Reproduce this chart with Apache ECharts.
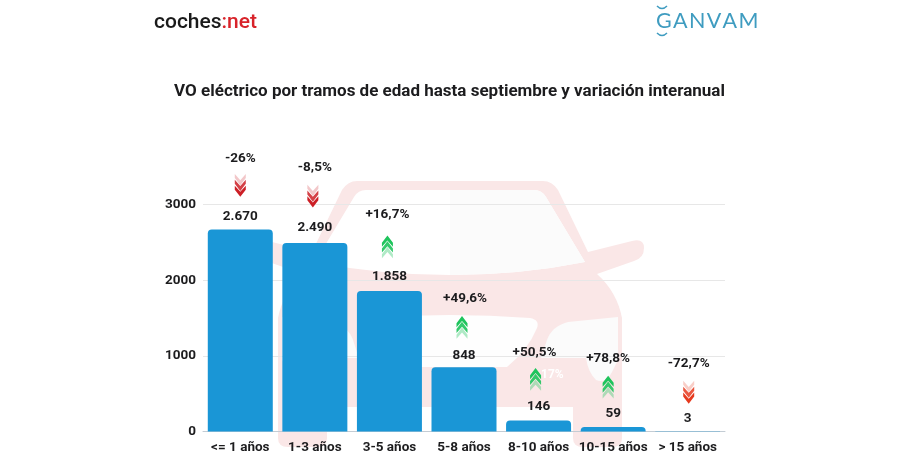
<!DOCTYPE html>
<html><head><meta charset="utf-8">
<style>html,body{margin:0;padding:0;background:#fff}#c{width:900px;height:456px}</style>
<script src="https://cdn.jsdelivr.net/npm/echarts@6/dist/echarts.min.js"></script></head>
<body><div id="c"></div>
<script>
const categories = ['<= 1 años','1-3 años','3-5 años','5-8 años','8-10 años','10-15 años','> 15 años'];
const units = [2670,2490,1858,848,146,59,3];
const yoyChange = [-26,-8.5,16.7,49.6,50.5,78.8,-72.7];
const yTicks = [0,1000,2000,3000];
const titleText = 'VO eléctrico por tramos de edad hasta septiembre y variación interanual';

// layout only: pixel offsets of each annotation from the bar's top centre
const valueLift = [13,15,14,11.5,13.5,13.5,12.5];
const arrowLift = [44,47,44,40,41,40,39];
const pctLift = [71,75,76.5,69,68,68,67.5];
const arrowNudge = [0,-2,-2,-2,-3,-5,1];
const pctNudge = [0,0,-2,1,-4,-5,1];

const F = 'Roboto, sans-serif';
const INK = '#1c1c1e';
const fmtUnits = v => String(v).replace(/\B(?=(\d{3})+$)/g, '.');
const fmtPct = v => (v > 0 ? '+' : '') + String(v).replace('.', ',') + '%';

const PINK = '#fae7e7', PALE = '#fbfbfb';
let shapeId = 0;
function deco(path, style, z) {
  const name = 'decoShape' + (shapeId++);
  echarts.graphic.registerShape(name, echarts.graphic.extendPath(path));
  return { type:name, z: z === undefined ? -10 : z, silent:true, style };
}
const carBody = 'M357 181 L543 181 Q552 181 558 190 L588 252 L632 241 Q644 238 644 248 Q644 258 634 261 L597 274 Q617 292 622 318 L622 438 Q622 447 612 447 L583 447 Q573 447 573 438 L573 407 L327 407 L327 438 Q327 447 317 447 L288 447 Q278 447 278 438 L278 318 Q283 292 303 274 L266 261 Q256 258 256 248 Q256 238 268 241 L312 252 L342 190 Q348 181 357 181 Z';
const carWindow = 'M366 190 L534 190 Q542 190 546 197 L585 262 Q520 275 450 275 Q380 275 315 262 L354 197 Q358 190 366 190 Z';
const carWindowRight = 'M450 190 L534 190 Q542 190 546 197 L585 262 Q520 275 450 275 Z';
const carGrille = 'M370 318 Q450 312 530 318 Q540 320 537 328 Q528 350 507 367 L393 367 Q372 350 363 328 Q360 320 370 318 Z';
const lampR = 'M618 317 L568 322 Q552 326 547 340 L541 358 L586 358 Q588 372 596 380 Q606 384 612 372 L618 360 Z';
const lampL = 'M282 317 L332 322 Q348 326 353 340 L359 358 L314 358 Q312 372 304 380 Q294 384 288 372 L282 360 Z';

const chart = echarts.init(document.getElementById('c'), null, { renderer:'canvas' });

function chevron(cx, cy, dir, color, opacity) {
  const w = 5.5, h = 3.6, t = 5;
  const p = dir > 0
    ? [[cx-w,cy+h-2],[cx,cy-h-2],[cx+w,cy+h-2],[cx+w,cy+h-2+t*.8],[cx,cy-h-2+t],[cx-w,cy+h-2+t*.8]]
    : [[cx-w,cy-h+2],[cx,cy+h+2],[cx+w,cy-h+2],[cx+w,cy-h+2-t*.8],[cx,cy+h+2-t],[cx-w,cy-h+2-t*.8]];
  return { type:'polygon', shape:{ points:p }, style:{ fill:color, opacity } };
}

chart.setOption({
  animation:false,
  backgroundColor:'#fff',
  title:{ text:titleText, left:444.5, top:78, textAlign:'center',
    textStyle:{ fontFamily:F, fontSize:17, fontWeight:'bold', color:INK } },
  grid:{ left:203, right:175, top:204.5, bottom:24.5, containLabel:false },
  xAxis:{ type:'category', data:categories, axisTick:{show:false},
    axisLine:{ lineStyle:{ color:'#c3ccd4', width:1 } },
    axisLabel:{ fontFamily:F, fontSize:13.5, fontWeight:'bold', color:INK, margin:9, interval:0 } },
  yAxis:{ type:'value', min:yTicks[0], max:yTicks[yTicks.length-1], interval:yTicks[1]-yTicks[0],
    axisLine:{show:false}, axisTick:{show:false},
    axisLabel:{ fontFamily:F, fontSize:13.5, fontWeight:'bold', color:INK, margin:7, formatter:v=>String(v) },
    splitLine:{ lineStyle:{ color:'#e7e7e7', width:1 } } },
  graphic:[
    deco(carBody, { fill:PINK }), deco(carWindow, { fill:'#fff' }), deco(carWindowRight, { fill:PALE }),
    deco(carGrille, { fill:'#fefefe' }), deco(lampR, { fill:PALE }), deco(lampL, { fill:PALE }),
    { type:'text', z:1, silent:true, x:154, y:12, style:{ rich:{
        a:{ fontFamily:F, fontSize:21, fontWeight:500, fill:'#1a1a1a' },
        b:{ fontFamily:F, fontSize:21, fontWeight:500, fill:'#d8232a' } },
        text:'{a|coches}{b|:net}' } },
    { type:'text', z:1, silent:true, x:656, y:10, style:{
        text:'G\u200aA\u200aN\u200aV\u200aA\u200aM', fontFamily:'Lato, sans-serif', fontSize:21.5, fontWeight:400, fill:'#3f9cc0' } },
    deco('M657 6 Q662 11 667 6 M657 33 Q662 38 667 33', { stroke:'#3f9cc0', fill:'none', lineWidth:1.5 }, 1),
    { type:'text', z:1, silent:true, x:541, y:369, style:{ text:'17%', fontFamily:F, fontSize:12, fontWeight:'bold', fill:'#fff' } }
  ],
  series:[
    { type:'bar', z:2, data:units, barWidth:65, itemStyle:{ color:'#1a96d6', borderRadius:[4,4,0,0] } },
    { type:'custom', z:4, data:units.map((v,i)=>[i,v]),
      renderItem(params, api) {
        const i = params.dataIndex;
        const [x, top] = api.coord([api.value(0), api.value(1)]);
        const up = yoyChange[i] > 0;
        const color = up ? '#1ec45c' : (i === units.length-1 ? '#e63a1e' : '#cc1f26');
        const ay = top - arrowLift[i];
        const ops = up ? [1,.9,.35] : [.25,.85,1];
        const order = up ? [2,1,0] : [0,1,2];
        const kids = order.map(k => chevron(x + arrowNudge[i], ay + (k-1)*5.8, up?1:-1, color, ops[k]));
        const text = (s, tx, y) => ({ type:'text', style:{ text:s, x:tx, y, textAlign:'center', textVerticalAlign:'middle',
          fontFamily:F, fontSize:13.5, fontWeight:'bold', fill:INK } });
        kids.push(text(fmtUnits(units[i]), x, top - valueLift[i]));
        kids.push(text(fmtPct(yoyChange[i]), x + pctNudge[i], top - pctLift[i]));
        return { type:'group', children:kids };
      } }
  ]
});
</script></body></html>
